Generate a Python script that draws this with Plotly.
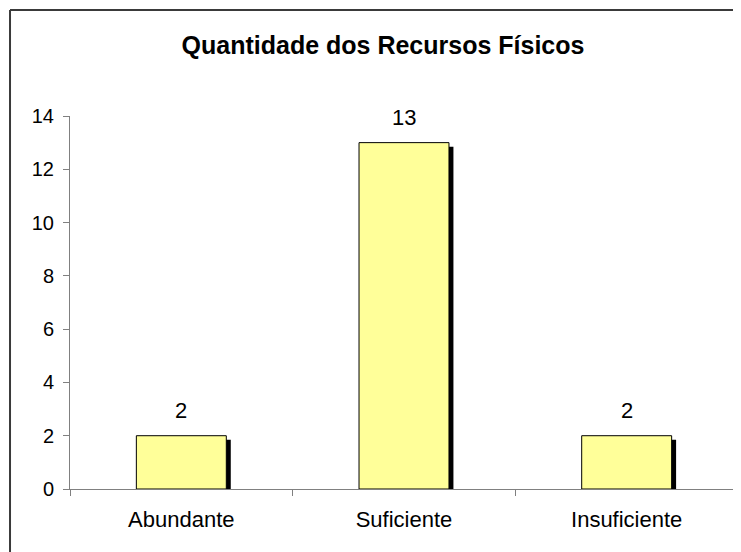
import plotly.graph_objects as go

categories = ["Abundante", "Suficiente", "Insuficiente"]
values = [2, 13, 2]
y_ticks = [0, 2, 4, 6, 8, 10, 12, 14]

title_text = "<b>Quantidade dos Recursos Físicos</b>"

bar_color = "#FFFF99"
axis_color = "#808080"
font_family = "Liberation Sans, Arial, sans-serif"

bar_width = 0.404
shadow_dx = 0.02
shadow_dy = 0.15

fig = go.Figure()

# drop shadow behind each bar (Excel-style)
fig.add_trace(go.Bar(
    x=categories, y=values, base=-shadow_dy,
    offset=-bar_width / 2 + shadow_dx, width=bar_width,
    marker=dict(color="black", line=dict(width=0)),
    hoverinfo="skip", showlegend=False,
))
fig.add_trace(go.Bar(
    x=categories, y=values,
    offset=-bar_width / 2, width=bar_width,
    marker=dict(color=bar_color, line=dict(color="black", width=1)),
    showlegend=False,
))

for cat, val in zip(categories, values):
    fig.add_annotation(
        x=cat, y=val, text=str(val), showarrow=False,
        yanchor="bottom", yshift=11,
        font=dict(size=22, color="black", family=font_family),
    )

# outer chart border: only its top and left edges are inside the frame
border = dict(color="#3a3a3a", width=2)
fig.add_shape(type="line", xref="paper", yref="paper",
              x0=-0.0898, y0=1.284, x1=1.2, y1=1.284, line=border)
fig.add_shape(type="line", xref="paper", yref="paper",
              x0=-0.0898, y0=1.284, x1=-0.0898, y1=-0.5, line=border)

# the page body has an 8px margin; size the figure so it fits the window
fig.update_layout(
    width=733, height=544,
    margin=dict(l=62, r=3, t=108, b=63),
    paper_bgcolor="white", plot_bgcolor="white",
    barmode="overlay",
    font=dict(family=font_family, size=20, color="black"),
    title=dict(
        text=title_text, xref="container", x=375 / 733, xanchor="center",
        yref="container", y=1 - 37 / 544, yanchor="middle",
        font=dict(size=25, family=font_family, color="black"),
    ),
)
fig.update_xaxes(
    showline=True, linecolor=axis_color, linewidth=1,
    ticks="outside", tickson="boundaries", ticklen=6, tickcolor=axis_color,
    ticklabelstandoff=11, tickfont=dict(size=22),
    showgrid=False, zeroline=False,
)
fig.update_yaxes(
    range=[0, 14], tickvals=y_ticks,
    showline=True, linecolor=axis_color, linewidth=1,
    ticks="outside", ticklen=6, tickcolor=axis_color,
    ticklabelstandoff=5, tickfont=dict(size=20),
    showgrid=False, zeroline=False,
)

# no scrollbars on the page
fig.write_html("out.html", post_script="document.body.style.overflow='hidden';")
